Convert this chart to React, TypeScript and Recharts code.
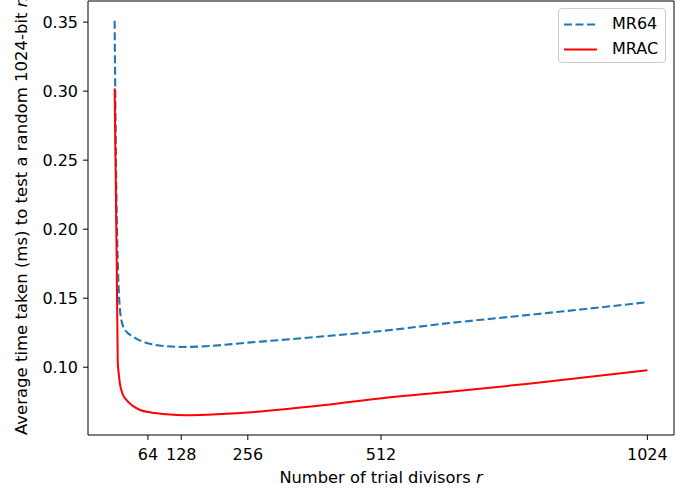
import React from 'react';
import { LineChart, Line, XAxis, YAxis, Legend, CartesianGrid } from 'recharts';

const mr64R = [0, 2, 4, 6, 8, 13, 20, 36, 68, 100, 128, 164, 256, 384, 512, 644, 768, 900, 1024];
const mr64V = [0.351, 0.27, 0.21, 0.177, 0.155, 0.134, 0.127, 0.122, 0.117, 0.1152, 0.1147, 0.115, 0.1178, 0.1218, 0.1262, 0.132, 0.1368, 0.142, 0.1471];

const mracR = [0, 2, 4, 6, 8, 10, 15, 23, 35, 49, 70, 100, 138, 180, 256, 404, 510, 644, 800, 1024];
const mracV = [0.302, 0.24, 0.175, 0.104, 0.095, 0.0885, 0.081, 0.0762, 0.072, 0.069, 0.0672, 0.0659, 0.0652, 0.0656, 0.0672, 0.0726, 0.0774, 0.0822, 0.0882, 0.0978];

const xTicks = [64, 128, 256, 512, 1024];
const yTicks = [0.1, 0.15, 0.2, 0.25, 0.3, 0.35];

const seriesNames = ['MR64', 'MRAC'];
const seriesColors = ['#1f77b4', '#ff0000'];

const mr64Data = mr64R.map((r, i) => ({ r, v: mr64V[i] }));
const mracData = mracR.map((r, i) => ({ r, v: mracV[i] }));

const FONT = "'DejaVu Sans', sans-serif";

const padDomain = ([a, b]: [number, number]): [number, number] => {
  const d = (b - a) * 0.05;
  return [a - d, b + d];
};

const LegendBox = () => (
  <div
    style={{
      position: 'relative',
      width: 108,
      height: 55,
      boxSizing: 'border-box',
      border: '1px solid #cccccc',
      borderRadius: 4,
      background: 'rgba(255,255,255,0.8)',
      fontFamily: FONT,
      fontSize: 16,
      color: '#000',
    }}
  >
    {seriesNames.map((name, i) => (
      <div key={name} style={{ position: 'absolute', left: 0, top: 3 + i * 25, height: 25, width: 106 }}>
        <svg width={40} height={25} style={{ position: 'absolute', left: 5, top: 0 }}>
          <line
            x1={0}
            x2={33}
            y1={12.5}
            y2={12.5}
            stroke={seriesColors[i]}
            strokeWidth={2}
            strokeDasharray={i === 0 ? '8 3.5' : undefined}
          />
        </svg>
        <span style={{ position: 'absolute', left: 53, top: 2, lineHeight: '20px' }}>{name}</span>
      </div>
    ))}
  </div>
);

const XLabel = (props: any) => {
  const vb = props.viewBox;
  return (
    <text x={vb.x + vb.width / 2} y={vb.y + 47.5} textAnchor="middle" fontFamily={FONT} fontSize={16.3} fill="#000">
      Number of trial divisors <tspan fontStyle="italic">r</tspan>
    </text>
  );
};

const YLabel = (props: any) => {
  const vb = props.viewBox;
  const x = 26.7;
  const y = vb.y + vb.height;
  return (
    <text x={x} y={y} transform={`rotate(-90, ${x}, ${y})`} textAnchor="start" fontFamily={FONT} fontSize={16.5} fill="#000">
      Average time taken (ms) to test a random 1024-bit <tspan fontStyle="italic">n</tspan>
    </text>
  );
};

export default function App() {
  return (
    <div style={{ position: 'absolute', left: 0, top: 0, width: 694, height: 493, background: '#fff' }}>
      <LineChart width={694} height={493} margin={{ top: 1, right: 20, left: 0, bottom: 0 }} style={{ fontFamily: FONT }}>
        <CartesianGrid
          stroke="#000"
          strokeWidth={1}
          horizontalCoordinatesGenerator={(p: any) => [p.offset.top]}
          verticalCoordinatesGenerator={(p: any) => [p.offset.left + p.offset.width]}
        />
        <XAxis
          dataKey="r"
          type="number"
          domain={padDomain as any}
          allowDataOverflow
          ticks={xTicks}
          height={58}
          tickSize={5}
          tickMargin={8.5}
          stroke="#000"
          tick={{ fill: '#000', fontSize: 16, fontFamily: FONT }}
          axisLine={{ stroke: '#000', strokeWidth: 1 }}
          tickLine={{ stroke: '#000' }}
          label={XLabel}
        />
        <YAxis
          dataKey="v"
          type="number"
          domain={padDomain as any}
          allowDataOverflow
          ticks={yTicks}
          width={88}
          tickSize={5}
          tickMargin={5}
          tickFormatter={(v: number) => v.toFixed(2)}
          tick={{ fill: '#000', fontSize: 16, fontFamily: FONT }}
          axisLine={{ stroke: '#000', strokeWidth: 1 }}
          tickLine={{ stroke: '#000' }}
          label={YLabel}
        />
        <Line
          data={mr64Data}
          dataKey="v"
          name={seriesNames[0]}
          type="monotone"
          stroke={seriesColors[0]}
          strokeWidth={2.1}
          strokeDasharray="8 3.5"
          dot={false}
          activeDot={false}
          isAnimationActive={false}
        />
        <Line
          data={mracData}
          dataKey="v"
          name={seriesNames[1]}
          type="monotone"
          stroke={seriesColors[1]}
          strokeWidth={2}
          dot={false}
          activeDot={false}
          isAnimationActive={false}
        />
        <Legend
          layout="vertical"
          align="center"
          verticalAlign="middle"
          content={LegendBox}
          wrapperStyle={{ left: 558, top: 8, width: 108, height: 55 }}
        />
      </LineChart>
    </div>
  );
}
